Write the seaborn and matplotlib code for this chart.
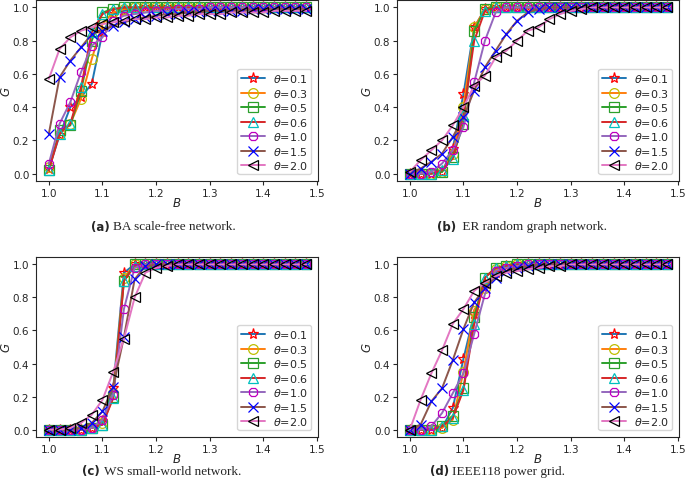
import matplotlib
matplotlib.use("Agg")
import matplotlib.pyplot as plt
import numpy as np
import pandas as pd
import seaborn as sns

sns.set_style("ticks")
plt.rcParams["font.family"] = ["DejaVu Sans"]
plt.rcParams["mathtext.fontset"] = "dejavusans"

B = np.round(np.arange(1.0, 1.481, 0.02), 2)
thetas = ["0.1", "0.3", "0.5", "0.6", "1.0", "1.5", "2.0"]


def pad(vals, last=1.0):
  vals = list(vals)
  return vals + [last] * (len(B) - len(vals))


ba = {
  "0.1": pad([0.03, 0.23, 0.40, 0.46, 0.54, 0.85, 0.96, 0.98, 0.99]),
  "0.3": pad([0.04, 0.24, 0.30, 0.45, 0.69, 0.90, 0.97, 0.99]),
  "0.5": pad([0.02, 0.26, 0.29, 0.50, 0.80, 0.97, 0.99]),
  "0.6": pad([0.02, 0.24, 0.30, 0.52, 0.85, 0.96, 0.99]),
  "1.0": pad([0.06, 0.30, 0.43, 0.61, 0.77, 0.82, 0.92, 0.95, 0.96, 0.97,
              0.98, 0.98, 0.99, 0.99, 0.99]),
  "1.5": pad([0.24, 0.58, 0.68, 0.76, 0.84, 0.86, 0.89, 0.91, 0.93, 0.94,
              0.95, 0.96, 0.96, 0.97, 0.97, 0.98, 0.98, 0.98, 0.98, 0.99,
              0.99, 0.99, 0.99, 0.99, 0.99]),
  "2.0": [0.57, 0.75, 0.82, 0.86, 0.88, 0.90, 0.91, 0.92, 0.93, 0.93,
          0.94, 0.94, 0.95, 0.95, 0.96, 0.96, 0.96, 0.97, 0.97, 0.97,
          0.97, 0.98, 0.98, 0.98, 0.98],
}

er = {
  "0.1": pad([0.0, 0.0, 0.0, 0.01, 0.15, 0.48, 0.88, 0.99]),
  "0.3": pad([0.0, 0.0, 0.0, 0.01, 0.12, 0.40, 0.88, 0.99]),
  "0.5": pad([0.0, 0.0, 0.0, 0.01, 0.10, 0.30, 0.86, 0.99]),
  "0.6": pad([0.0, 0.0, 0.0, 0.02, 0.09, 0.35, 0.80, 0.98]),
  "1.0": pad([0.0, 0.0, 0.01, 0.06, 0.14, 0.28, 0.55, 0.80, 0.97]),
  "1.5": pad([0.0, 0.03, 0.07, 0.12, 0.22, 0.34, 0.50, 0.64, 0.74, 0.84,
              0.92, 0.97, 0.99]),
  "2.0": pad([0.01, 0.08, 0.14, 0.20, 0.29, 0.40, 0.53, 0.59, 0.70, 0.74,
              0.80, 0.86, 0.88, 0.93, 0.96, 0.98, 0.99]),
}

ws = {
  "0.1": pad([0.0, 0.0, 0.0, 0.0, 0.01, 0.05, 0.25, 0.95]),
  "0.3": pad([0.0, 0.0, 0.0, 0.0, 0.01, 0.04, 0.22, 0.92]),
  "0.5": pad([0.0, 0.0, 0.0, 0.0, 0.01, 0.03, 0.20, 0.90]),
  "0.6": pad([0.0, 0.0, 0.0, 0.0, 0.01, 0.03, 0.19, 0.90, 0.99]),
  "1.0": pad([0.0, 0.0, 0.0, 0.0, 0.01, 0.06, 0.21, 0.73, 0.98]),
  "1.5": pad([0.0, 0.0, 0.0, 0.01, 0.04, 0.11, 0.26, 0.56, 0.91, 0.99]),
  "2.0": pad([0.0, 0.0, 0.01, 0.04, 0.09, 0.18, 0.35, 0.55, 0.80, 0.95,
              0.98, 0.99]),
}

ieee = {
  "0.1": pad([0.0, 0.0, 0.0, 0.01, 0.13, 0.43, 0.70, 0.88, 0.95, 0.99]),
  "0.3": pad([0.0, 0.0, 0.0, 0.01, 0.06, 0.35, 0.72, 0.86, 0.97, 0.99]),
  "0.5": pad([0.0, 0.0, 0.0, 0.02, 0.08, 0.25, 0.68, 0.92, 0.98, 0.99]),
  "0.6": pad([0.0, 0.0, 0.0, 0.02, 0.07, 0.24, 0.64, 0.92, 0.98, 0.99]),
  "1.0": pad([0.0, 0.0, 0.02, 0.10, 0.22, 0.34, 0.58, 0.82, 0.96, 0.98,
              0.99]),
  "1.5": pad([0.0, 0.03, 0.17, 0.25, 0.42, 0.61, 0.77, 0.86, 0.92, 0.96,
              0.98, 0.99]),
  "2.0": pad([0.0, 0.18, 0.34, 0.48, 0.64, 0.73, 0.84, 0.89, 0.93, 0.95,
              0.96, 0.97, 0.98, 0.99, 0.99]),
}

line_colors = ["C0", "C1", "C2", "C3", "C4", "C5", "C6"]
markers = ["*", "o", "s", "^", "8", "x", "<"]
edge_colors = ["r", "y", "C2", "c", "m", "b", "k"]

W, H = 685, 489
# (data, axes box in pixels: left, top, right, bottom), tag, caption, caption x/y in px
panels = [
  (ba, (36, 1, 318, 182), "(a)", "BA scale-free network.", 91, 227),
  (er, (397, 1, 679, 182), "(b)", " ER random graph network.", 437, 227),
  (ws, (36, 258, 318, 438), "(c)", "WS small-world network.", 82, 472),
  (ieee, (397, 258, 679, 438), "(d)", "IEEE118 power grid.", 430, 472),
]

fig = plt.figure(figsize=(W / 100, H / 100), dpi=100)

for data, box, tag, caption, cap_x, cap_y in panels:
  l, t, r, b = box
  ax = fig.add_axes([l / W, 1 - b / H, (r - l) / W, (b - t) / H])
  for i, th in enumerate(thetas):
    df = pd.DataFrame({"B": B, "G": data[th]})
    sns.lineplot(
      data=df, x="B", y="G", ax=ax,
      color=line_colors[i], marker=markers[i],
      markeredgecolor=edge_colors[i], markerfacecolor="none",
      markersize=8 if markers[i] == "*" else 7, markeredgewidth=0.9,
      linewidth=1.4, label=r"$\theta$=" + th,
    )
  ax.set_xlim(0.976, 1.502)
  ax.set_ylim(-0.045, 1.045)
  ax.set_xticks([1.0, 1.1, 1.2, 1.3, 1.4, 1.5])
  ax.set_yticks([0.0, 0.2, 0.4, 0.6, 0.8, 1.0])
  ax.tick_params(labelsize=7.5, length=3, pad=1.8)
  ax.set_xlabel(r"$B$", fontsize=8.5, labelpad=-1)
  ax.set_ylabel(r"$G$", fontsize=8.5)
  ax.yaxis.set_label_coords(-0.083, 0.5)
  ax.legend(loc="lower right", fontsize=8, handlelength=2.2,
            labelspacing=0.22, borderpad=0.3, handletextpad=0.7,
            borderaxespad=0.6)
  fig.text(cap_x / W, 1 - cap_y / H, tag, ha="left", va="center",
           fontsize=8.5, fontweight="bold")
  fig.text((cap_x + 22) / W, 1 - cap_y / H, caption, ha="left", va="center",
           fontsize=9.5, family="Liberation Serif")

fig.savefig("out.png", dpi=100)
